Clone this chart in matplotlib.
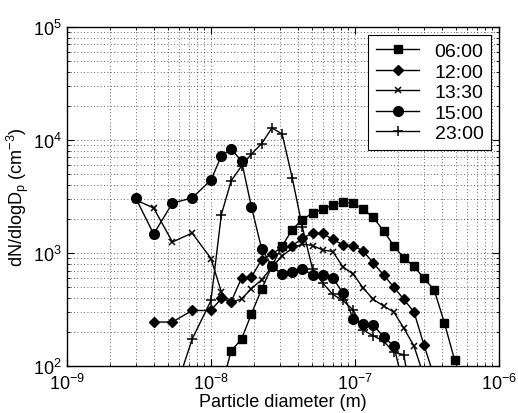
import matplotlib
matplotlib.use("Agg")
import matplotlib.pyplot as plt
import numpy as np
from matplotlib.ticker import LogLocator, NullFormatter

plt.rcParams["font.family"] = ["Liberation Sans", "DejaVu Sans"]
plt.rcParams["mathtext.fontset"] = "custom"
plt.rcParams["mathtext.rm"] = "Liberation Sans"
plt.rcParams["mathtext.it"] = "Liberation Sans:italic"

nan = np.nan

# particle diameters (nm) of the size bins
diam_nm = [3.0, 4.0, 5.4, 7.4, 10.0, 11.8, 13.8, 16.3, 19.1, 22.5, 26.5, 31.2,
           36.7, 43.1, 50.7, 59.6, 70.1, 82.5, 97.0, 114, 134, 158, 186, 218,
           257, 302, 355, 418, 491]

# dN/dlogDp (cm^-3)
n_0600 = [nan, nan, nan, nan, nan, 64, 136, 173, 290, 480, 767, 1153,
          1614, 1979, 2250, 2452, 2659, 2810, 2768, 2430, 2070, 1565, 1160, 905,
          760, 595, 471, 240, 114]
n_1200 = [nan, 245, 245, 310, 310, 397, 370, 601, 613, 875, 980, 1130,
          1153, 1357, 1490, 1490, 1318, 1180, 1163, 1041, 815, 638, 500, 390,
          300, 152, 80, nan, nan]
n_1330 = [2950, 2500, 1251, 1503, 894, 452, 365, 392, 485, 580, 752, 941,
          1107, 1201, 1165, 1063, 1030, 752, 652, 490, 388, 340, 300, 217,
          150, 80, nan, nan, nan]
n_1500 = [3070, 1472, 2768, 3070, 4426, 7217, 8320, 6518, 2553, 1084, 767, 652,
          679, 722, 638, 638, 601, 443, 261, 235, 231, 181, 150, 66,
          nan, nan, nan, nan, nan]
n_2300 = [nan, nan, 51, 173, 380, 2182, 4350, 5887, 7517, 9300, 12770, 11300,
          4590, 1699, 722, 543, 430, 380, 314, 208, 185, 166, 132, 126,
          40, nan, nan, nan, nan]

labels = ["06:00", "12:00", "13:30", "15:00", "23:00"]

d = np.array(diam_nm) * 1e-9
series = [n_0600, n_1200, n_1330, n_1500, n_2300]
styles = [
    dict(marker="s", ms=5.5),
    dict(marker="D", ms=5.5),
    dict(marker="x", ms=4.5, mew=1.1),
    dict(marker="o", ms=7),
    dict(marker="+", ms=7, mew=1.1),
]

fig = plt.figure(figsize=(5.18, 4.14), dpi=100)
ax = fig.add_axes([0.1293, 0.1135, 0.834, 0.8189])

for vals, lbl, st in zip(series, labels, styles):
    ax.plot(d, vals, color="k", lw=1.0, mfc="k", mec="k", label=lbl, **st)

ax.set_xscale("log")
ax.set_yscale("log")
ax.set_xlim(1e-9, 1e-6)
ax.set_ylim(1e2, 1e5)

for axis in (ax.xaxis, ax.yaxis):
    axis.set_major_locator(LogLocator(base=10, numticks=10))
    axis.set_minor_locator(LogLocator(base=10, subs=np.arange(2, 10), numticks=30))
    axis.set_minor_formatter(NullFormatter())

ax.grid(True, which="both", color="k", linestyle=(0, (1, 3)), linewidth=0.6, alpha=0.8)
ax.tick_params(which="both", direction="in", top=True, right=True, labelsize=13)
ax.tick_params(which="major", length=5, width=0.8)
ax.tick_params(which="minor", length=2.5, width=0.6)
ax.tick_params(axis="x", which="major", pad=5)
for sp in ax.spines.values():
    sp.set_linewidth(1.0)

ax.set_xlabel("Particle diameter (m)", fontsize=13, labelpad=0)
ax.set_ylabel(r"dN/dlogD$_\mathrm{p}$ (cm$^{-3}$)", fontsize=13, labelpad=2)

leg = ax.legend(loc="upper right", fontsize=14, frameon=True, fancybox=False,
                edgecolor="k", framealpha=1, handlelength=2.2, borderaxespad=0.4,
                labelspacing=0.15, handletextpad=0.8, borderpad=0.4)
leg.get_frame().set_linewidth(0.8)

fig.savefig("out.png", dpi=100)
